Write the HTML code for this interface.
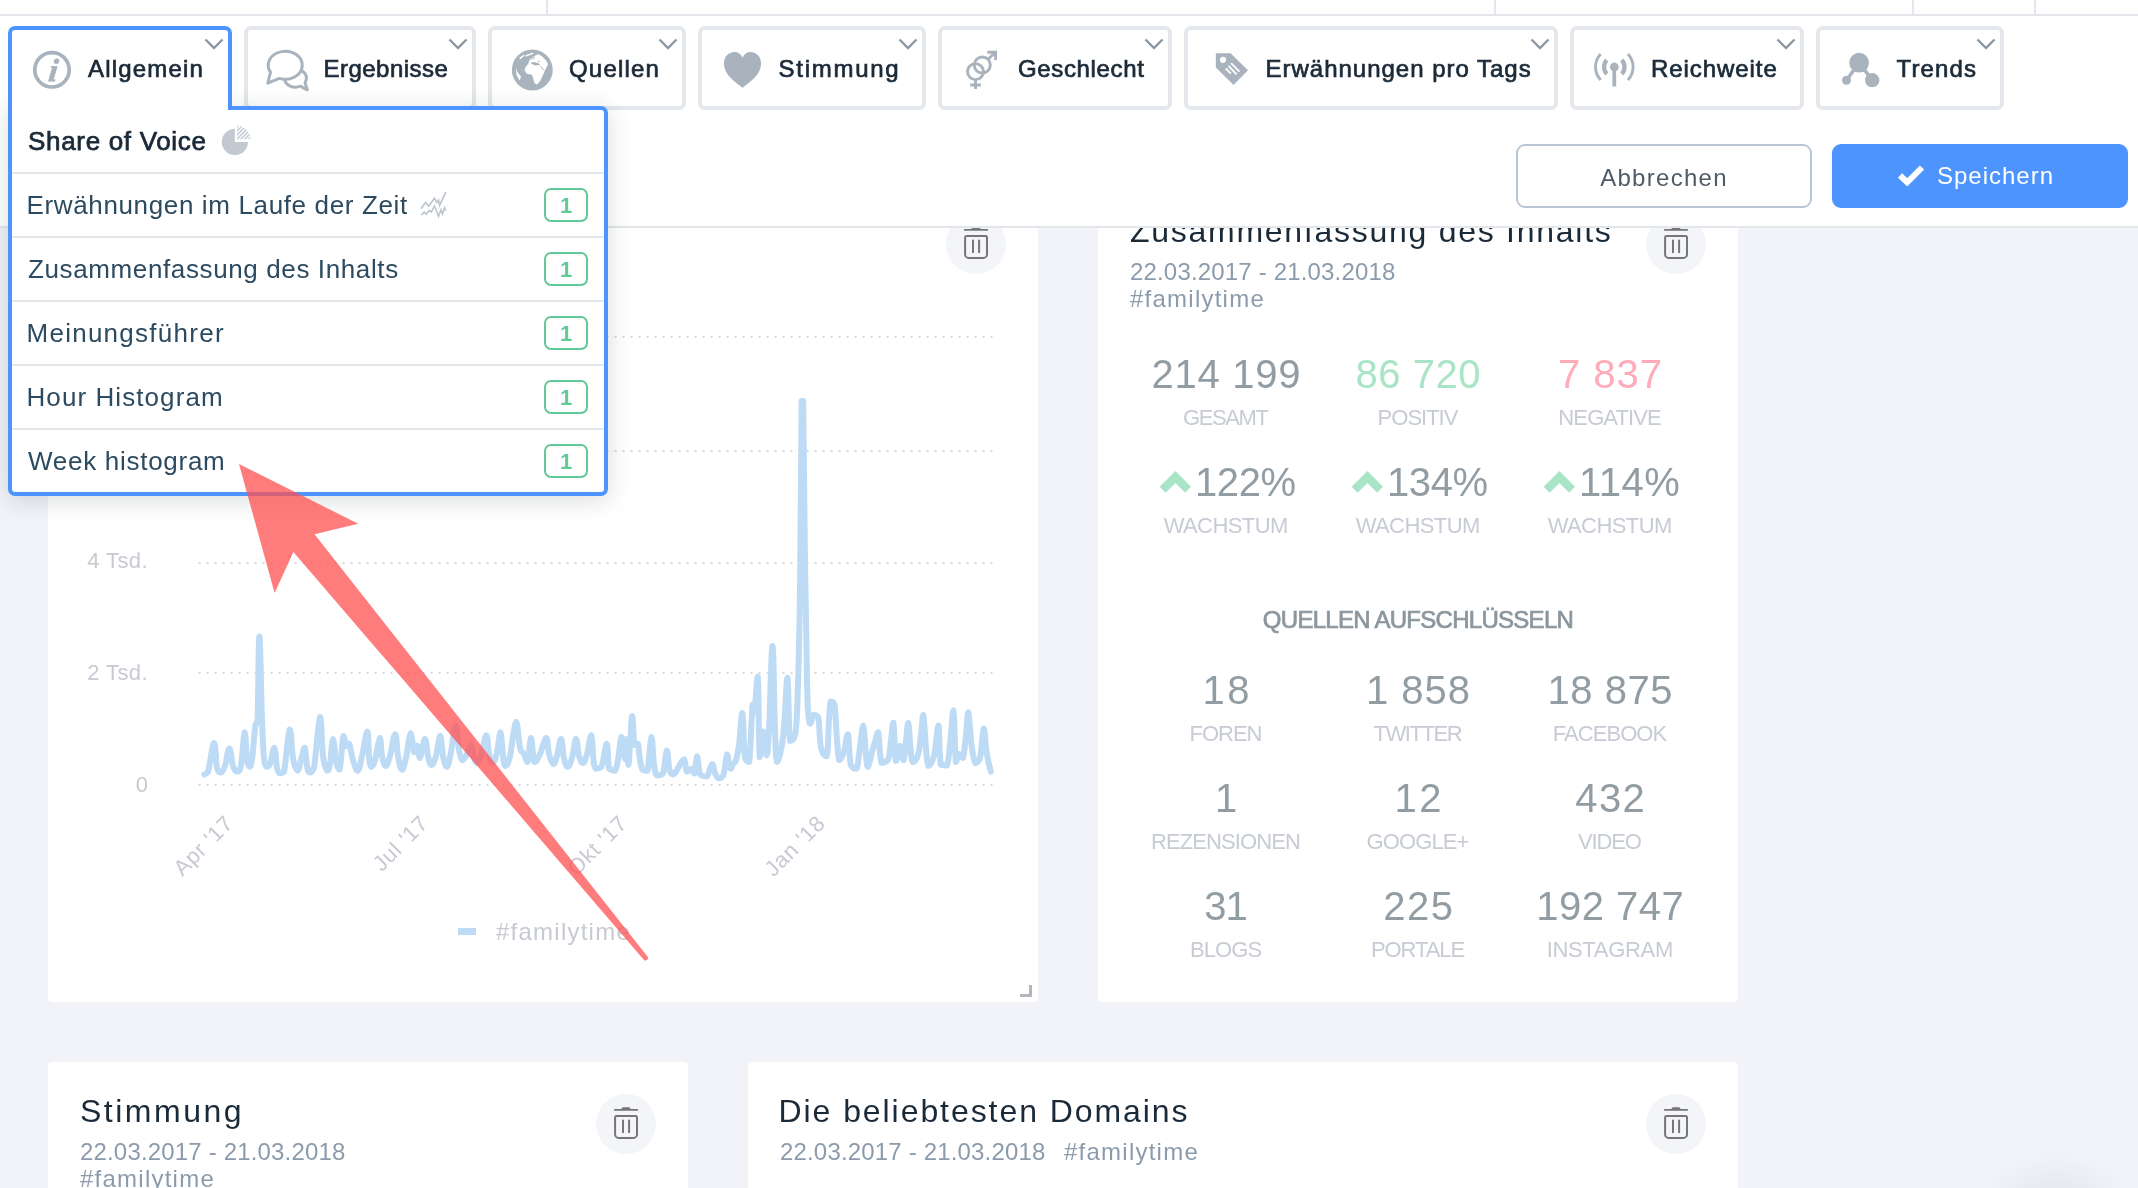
<!DOCTYPE html>
<html lang="de"><head><meta charset="utf-8"><title>Dashboard</title>
<style>
*{box-sizing:border-box}
html,body{margin:0;padding:0}
body{width:2138px;height:1188px;overflow:hidden;position:relative;background:#f2f3f8;font-family:"Liberation Sans",sans-serif;color:#1b2a38}
.abs{position:absolute;display:block}
.card{position:absolute;background:#fff;border-radius:4px}
.ctitle{position:absolute;font-size:32px;line-height:40px;white-space:nowrap;color:#1b2a38}
.cmeta{position:absolute;font-size:24px;line-height:28px;white-space:nowrap;color:#8b9bab;letter-spacing:0.17px}
.num{position:absolute;width:300px;text-align:center;font-size:40px;line-height:46px;color:#929ca3;white-space:nowrap}
.lab{position:absolute;width:300px;text-align:center;font-size:22px;line-height:26px;color:#c7cbd4;white-space:nowrap;letter-spacing:-.6px}
#hdr{position:absolute;left:0;top:0;width:2138px;height:228px;background:#fff;border-bottom:2px solid #e3e7ec}
#hdr .topline{position:absolute;left:0;top:14px;width:2138px;height:2px;background:#e3e7ec}
#hdr .vd{position:absolute;top:0;width:2px;height:14px;background:#e3e7ec}
.tab{position:absolute;top:26px;height:84px;border:4px solid #e4e8ec;border-radius:7px;background:#fff}
.tab.act{border-color:#4d94ff;border-bottom:0;border-radius:7px 7px 0 0;height:84px;z-index:12}
.tlabel{position:absolute;top:54px;height:30px;line-height:30px;font-size:24px;font-weight:400;-webkit-text-stroke:.7px #1b2a38;color:#1b2a38;white-space:nowrap;z-index:13}
#hdr svg.abs{z-index:13}
.btn{position:absolute;top:144px;width:296px;height:64px;border-radius:9px;font-size:24px;line-height:64px;white-space:nowrap}
#dd{position:absolute;left:8px;top:106px;width:600px;height:390px;border:4px solid #4d94ff;border-radius:0 7px 7px 7px;background:#fff;box-shadow:0 4px 24px rgba(20,30,40,.16);z-index:11}
#dd .in{position:absolute;left:-4px;top:-4px;width:600px;height:390px}
.sep{position:absolute;left:4px;width:592px;height:2px;background:#e3e7ec}
.row{position:absolute;left:20px;height:62px;line-height:62px;font-size:26px;color:#2c4a60;white-space:nowrap}
.badge{position:absolute;left:536px;width:44px;height:34px;border:2px solid #62c998;border-radius:7px;color:#62c998;font-weight:700;font-size:22px;line-height:31px;text-align:center}
#app{position:absolute;left:0;top:0;width:2138px;height:1188px;overflow:hidden;will-change:transform}
</style></head><body><div id="app">

<!-- cards -->
<div class="card" style="left:48px;top:182px;width:990px;height:820px"></div>
<div class="card" style="left:1098px;top:182px;width:640px;height:820px"></div>
<div class="card" style="left:48px;top:1062px;width:640px;height:200px"></div>
<div class="card" style="left:748px;top:1062px;width:990px;height:200px"></div>

<!-- card 1 chart -->
<div class="abs" style="left:946px;top:214px"><svg width="60" height="60" viewBox="0 0 60 60"><circle cx="30" cy="30" r="30" fill="#f3f5f9"/><path d="M18.1 14.95H25.2L26.7 13.2H33.3L34.8 14.95H41.9V16.85H18.1z" fill="#767676"/><g fill="none" stroke="#767676" stroke-width="2" stroke-linecap="round"><path d="M19.1 23.5a1.5 1.5 0 0 1 1.5-1.5h18.9a1.5 1.5 0 0 1 1.5 1.5v16.9a3.5 3.5 0 0 1-3.5 3.5h-14.9a3.5 3.5 0 0 1-3.5-3.5z"/><path d="M27 26.5v11.8M33.1 26.5v11.8"/></g></svg></div>
<svg class="abs" style="left:0;top:0" width="1040" height="1010" viewBox="0 0 1040 1010" font-family="Liberation Sans, sans-serif">
<path d="M198.5 337H993" stroke="#d8d9dc" stroke-width="2" stroke-dasharray="2 6"/><path d="M198.5 451H993" stroke="#d8d9dc" stroke-width="2" stroke-dasharray="2 6"/><path d="M198.5 563H993" stroke="#d8d9dc" stroke-width="2" stroke-dasharray="2 6"/><path d="M198.5 673H993" stroke="#d8d9dc" stroke-width="2" stroke-dasharray="2 6"/><path d="M198.5 785H993" stroke="#d8d9dc" stroke-width="2" stroke-dasharray="2 6"/>
<path d="M204.4 774.5C205.1 774 206.1 774.5 208 772C209.9 765.7 212.2 743.7 214 742.9C215.8 742.9 215.7 762.1 217 768C218.3 772.6 219.1 772.6 220.7 772.6C222.3 772.2 223.3 770.8 225 766C226.7 761.2 227.7 748.6 229.3 748.6C230.9 748.6 231.5 761.4 233 766C234.5 770.6 235.4 771.6 237 771.6C238.6 771.6 239.5 771.6 241 766C242.5 758.1 243.4 733.9 244.6 732.3C245.8 732.3 246 751.1 247 758C248 764.9 248.4 766.4 249.4 766.8C250.4 766.8 250.8 766.8 252 760C253.2 752 254.1 734.6 255.2 726.6C256.3 720 256.7 726.6 257.5 720C258.3 702 258.5 636.4 259.4 636.4C260.3 636.4 261.1 695.7 262 720C262.9 744.3 263.1 748.6 264 758C264.9 766.8 265.5 765.6 266.7 766.8C267.9 766.8 268.5 766.8 270 764C271.5 760.2 273 747.7 274.4 747.7C275.8 748.5 275.9 762.8 277 768C278.1 773.2 278.6 772.7 280 773.5C281.4 773.5 282.1 773.5 284 772C285.9 763.2 287.9 732.2 289.7 729.4C291.5 729.4 291.5 749.7 293 758C294.5 766.3 295.8 770.3 297.4 770.7C299 770.7 299.5 764.6 301 760C302.5 755.4 303.5 747.7 304.7 747.7C305.9 748.9 306 761 307 766C308 771 308.4 772.2 309.8 772.6C311.2 772.6 312 772.6 314 768C316 756.9 318.2 719.4 320 717C321.8 717 321.6 745.3 323 756C324.4 766.7 325.7 769.1 327.1 770.7C328.5 770.7 328.8 770.3 330 764C331.2 757.7 331.7 739.8 332.9 739C334.1 739 334.7 753.9 336 760C337.3 766.1 338.1 769.7 339.6 769.7C341.1 764.9 342.1 740.7 343.4 736C344.7 736 344.8 744.4 346 746C347.2 746 347.8 743.8 349.2 743.8C350.6 746.6 351.3 754.6 353 760C354.7 765.4 356 770.7 357.8 770.7C359.6 769.9 360.1 763.9 362 756C363.9 748.1 366 731.4 367.4 731.4C368.8 731.4 368.2 748.9 369 756C369.8 763.1 370 766 371.2 766.8C372.4 766.8 373.3 765.8 375 760C376.7 754.2 378.4 738.8 379.8 738C381.2 738 380.8 750.4 382 756C383.2 761.6 384 765.9 385.6 765.9C387.2 765.9 388.1 762.3 390 756C391.9 749.7 393.6 734.2 395.2 734.2C396.8 734.2 396.7 748.9 398 756C399.3 763.1 400.3 769.3 401.9 769.7C403.5 769.7 404.3 765.3 406 758C407.7 750.7 408.9 734.5 410.5 733.3C412.1 733.3 412.7 749.5 414 752C415.3 752 416 745.7 417.2 745.7C418.4 746.9 418.5 758 420 758C421.5 756.7 423.3 739.4 424.9 739C426.5 739 426.7 750.8 428 756C429.3 761.2 430 764.9 431.6 764.9C433.2 764.9 434.3 761.8 436 756C437.7 750.2 438.8 736.1 440.2 736.1C441.6 736.1 441.7 749.9 443 756C444.3 762.1 445.3 766.8 446.9 766.8C448.5 766 449.3 760.2 451 752C452.7 743.8 454 726 455.6 725.6C457.2 725.6 457.7 743.1 459 750C460.3 756.9 460.9 758.9 462.3 760.1C463.7 760.1 464.3 758.9 466 756C467.7 753.1 469.3 745.7 470.9 745.7C472.5 746.1 472.8 754.5 474 758C475.2 761.5 475.3 763 476.7 763C478.1 762.6 479.1 761.6 481 756C482.9 750.4 484.7 735.6 486.3 735.2C487.9 735.2 487.7 748.4 489 754C490.3 759.6 491.4 763 493 763C494.6 762.6 495.5 758.1 497 752C498.5 745.9 499.4 732.3 500.6 732.3C501.8 733.1 502 749.3 503 756C504 762.7 504 765.9 505.4 765.9C506.8 765.9 507.9 764.8 510 756C512.1 747.2 514 723.4 516 721.8C518 721.8 518.4 741.6 520 748C521.6 754 522.5 751.2 524 754C525.5 756.8 526.1 762 527.5 762C528.9 758.8 529.8 739.6 530.9 738C532 738 532.2 749.2 533 754C533.8 758.8 533.6 762 535 762C536.4 762 537.7 758.8 540 754C542.3 749.2 544.5 738 546.3 738C548.1 738 547.6 748.8 549 754C550.4 759.2 551.8 763.6 553.4 764C555 764 555.5 761 557 756C558.5 751 559.6 739 561 739C562.4 739.4 562.7 752.4 564 758C565.3 763.6 566.1 766.8 567.7 766.8C569.3 766.8 570.3 763.6 572 758C573.7 752.4 574.6 739.4 576 739C577.4 739 577.6 751.2 579 756C580.4 760.8 581.4 763 583 763C584.6 762.6 585.3 759.6 587 754C588.7 748.4 590 735.2 591.3 735.2C592.6 736.4 592.6 753.3 593.5 760C594.4 766.7 594.2 767.3 595.8 768.7C597.4 768.7 599.3 768.7 601.5 766.8C603.7 761.8 605.2 743.8 606.7 743.8C608.2 744.2 607.6 763.3 609.2 768.7C610.8 770.7 613.1 770.7 614.9 770.7C616.7 769 616.7 766.7 618 760C619.3 753.3 620.2 738.7 621.3 737.1C622.4 737.1 622.7 747.6 623.5 752C624.3 756.4 624.9 759.2 625.5 759.2C626.1 756.6 625.8 739 626.4 739C627 740.1 627.7 763.7 628.4 764.9C629.1 764.9 629.2 754.8 630 745C630.8 735.2 631.3 716 632.2 716C633.1 716 633.4 739.4 634.5 745C635.6 745 636.8 743.8 637.9 743.8C639 746.8 639 754.8 640 760C641 765.2 641.2 767.6 642.7 769.7C644.2 770.7 645.8 770.7 647.5 770.7C649.2 764.2 650.1 738.2 651.4 737.1C652.7 737.1 652.9 757.3 654 765C655.1 772.7 655.3 773.8 657.1 775.5C658.9 775.5 661 775.5 662.9 773.5C664.8 768.5 665.4 751.2 666.7 750.5C668 750.5 668.2 765.2 669.5 770C670.8 774.5 671.7 774.5 673.4 774.5C675.1 774.1 675.9 771.1 678 768C680.1 764.9 682.2 759.2 684 759.2C685.8 759.9 685.3 769.7 686.8 771.6C688.3 771.6 690.1 768.7 691.6 768.7C693.1 769.1 693.4 773.5 694.5 773.5C695.6 771 696.1 757 697 756.3C697.9 756.3 698.2 766.2 699 770C699.8 773.8 699.6 774.2 701.2 775.5C702.8 776.4 704.8 776.4 707 776.4C709.2 774.1 710.5 764.7 712.1 764C713.7 764 713.7 770.1 715 773C716.3 775.9 716.8 777.8 718.5 778.3C720.2 778.3 721.6 778.3 723.3 775.5C725 770.7 726 756.3 727.1 754.4C728.2 754.4 728.2 763.1 729 766C729.8 768.7 730.1 768.7 730.9 768.7C731.7 768.3 732 765.5 733 764C734 762.5 734.5 764 735.7 761C736.9 757.2 737.7 754.6 739 745C740.3 735.4 741.2 713.1 742.4 713.1C743.6 715.5 743.5 747.4 744.9 757.2C746.3 762 747.7 762 749.2 762C750.7 751.5 751.5 714.5 752.6 704.5C753.7 704.5 753.5 712 754.5 712C755.5 706.4 756.8 676.7 757.8 676.7C758.8 685.7 758.6 746.3 759.7 757.2C760.8 757.2 762.2 731.8 763.5 731.4C764.8 731.4 765.3 755.3 766.4 755.3C767.5 755 767.8 751.9 769 730C770.2 708.1 771.3 646 772.5 646C773.7 646 774.1 706.8 775 730C775.9 753.2 775.6 758.9 777 762C778.4 762 780.3 754.1 781.8 745.7C783.3 737.3 783.4 733.6 784.5 720C785.6 706.4 786.4 677.7 787.5 677.7C788.6 681.9 788.5 729.6 790 740.9C791.5 740.9 793.7 740.9 795.2 734.2C796.7 726 796.5 728.8 797.5 700C798.5 671.2 799.2 649.8 800 590C800.8 530.2 801 438.8 801.6 401C802.2 401 802.5 401 803.2 401C803.9 432.8 804.2 504.2 805 560C805.8 615.8 806.3 648.8 807 680C807.7 711.2 807.8 707.3 808.5 716C809.2 723.7 809.5 723.7 810.5 723.7C811.5 723.5 811.9 716.3 813.4 715C814.9 715 816.7 715 818.2 717C819.7 723.5 819.3 739.8 821 747.7C822.7 755.6 825.2 756.3 826.8 756.3C828.4 750.8 828.2 730.9 829 720C829.8 709.1 829.6 704.7 830.7 701.6C831.8 701.6 833.2 701.6 834.5 704.5C835.8 712.2 836 728.9 837 740C838 751.1 837.9 757.8 839.3 760.1C840.7 760.1 842.3 756.7 844 751.5C845.7 746.3 846.5 734.2 847.9 734.2C849.3 736.9 849.1 758 850.8 764.9C852.5 768.7 854.8 768.7 856.5 768.7C858.2 766 858 760.1 859.4 751.5C860.8 742.9 862 725.6 863.3 725.6C864.6 726.5 865.1 747.8 866 756C866.9 764.2 866.8 766.8 868 766.8C869.2 766 870.6 757 872 752C873.4 747 873.8 745.9 875 742C876.2 738.1 876.9 732.3 878.2 732.3C879.5 736.5 879.5 757.6 881.5 763C883.5 763 886.3 763 888.2 759.2C890.1 754.6 890 747.3 891 740C892 732.7 892.4 722.7 893.4 722.7C894.4 726.9 894.6 756.4 895.9 761C897.2 761 898.2 745.9 899.7 745.7C901.2 745.7 902.2 760.1 903.5 760.1C904.8 759 905 747.5 906 740C907 732.5 907.4 722.7 908.3 722.7C909.2 724.3 909.6 740.1 910.5 748C911.4 755.9 911.2 760.6 912.7 762C914.2 762 916.3 760.4 918 755C919.7 749.6 919.9 743 921 735C922.1 727 922.3 715 923.3 715C924.3 717.6 925 737.8 926 748C927 758.2 926.8 764.3 928.4 765.9C930 765.9 932.4 761.6 934 756C935.6 750.4 935.6 744.1 936.5 738C937.4 731.9 937.7 725.6 938.6 725.6C939.5 731 939.2 756.9 940.9 764.9C942.6 765.5 945.1 765.5 947 765.5C948.9 760.5 949.2 751 950.5 740C951.8 729 952.3 710.3 953.4 710.3C954.5 714.7 954.8 753.3 955.9 762C957 762 957.6 754.8 959 754C960.4 754 961.6 758 963 758C964.4 754.2 964.9 744.2 966 735C967.1 725.8 967.2 712.2 968.3 712.2C969.4 714.2 970.1 734.8 971.5 745C972.9 755.2 973.7 760.4 975.4 763C977.1 763 978.3 763 980 758C981.7 751.1 982.5 730.5 983.7 728.5C984.9 728.5 985.2 741.9 986 748C986.8 754.1 986.9 754.5 987.9 759.2C988.9 763.9 990.2 769.1 990.8 771.6" fill="none" stroke="#bedbf5" stroke-width="6" stroke-linejoin="round" stroke-linecap="round"/>
<g font-size="22" fill="#c7cad3"><text x="148" y="568" text-anchor="end" letter-spacing="0.4">4 Tsd.</text><text x="148" y="680" text-anchor="end" letter-spacing="0.4">2 Tsd.</text><text x="148" y="792" text-anchor="end">0</text>
<text transform="translate(229 819) rotate(-45)" text-anchor="end" y="8" letter-spacing=".7">Apr '17</text><text transform="translate(424 819) rotate(-45)" text-anchor="end" y="8" letter-spacing=".7">Jul '17</text><text transform="translate(623 819) rotate(-45)" text-anchor="end" y="8" letter-spacing=".7">Okt '17</text><text transform="translate(821 819) rotate(-45)" text-anchor="end" y="8" letter-spacing=".7">Jan '18</text></g>
<rect x="458" y="928" width="18" height="7" fill="#bedbf5"/>
<text x="496" y="940" font-size="24" fill="#c7cad3" letter-spacing="1.24">#familytime</text>
<path d="M1030.5 985v10.5h-10.5" fill="none" stroke="#b3b6bb" stroke-width="3"/>
</svg>

<!-- card 2 summary -->
<div class="ctitle" style="left:1130px;top:211px;letter-spacing:1.73px">Zusammenfassung des Inhalts</div>
<div class="cmeta" style="left:1130px;top:258px">22.03.2017 - 21.03.2018</div>
<div class="cmeta" style="left:1130px;top:285px;letter-spacing:1.24px">#familytime</div>
<div class="abs" style="left:1646px;top:214px"><svg width="60" height="60" viewBox="0 0 60 60"><circle cx="30" cy="30" r="30" fill="#f3f5f9"/><path d="M18.1 14.95H25.2L26.7 13.2H33.3L34.8 14.95H41.9V16.85H18.1z" fill="#767676"/><g fill="none" stroke="#767676" stroke-width="2" stroke-linecap="round"><path d="M19.1 23.5a1.5 1.5 0 0 1 1.5-1.5h18.9a1.5 1.5 0 0 1 1.5 1.5v16.9a3.5 3.5 0 0 1-3.5 3.5h-14.9a3.5 3.5 0 0 1-3.5-3.5z"/><path d="M27 26.5v11.8M33.1 26.5v11.8"/></g></svg></div>
<div class="num" style="left:1076.4px;top:351px;color:#929ca3;letter-spacing:0.77px">214 199</div><div class="lab" style="left:1075.3px;top:405px;letter-spacing:-1.38px">GESAMT</div>
<div class="num" style="left:1268.3px;top:351px;color:#a9e4c6;letter-spacing:0.52px">86 720</div><div class="lab" style="left:1267.5px;top:405px;letter-spacing:-1.0px">POSITIV</div>
<div class="num" style="left:1460.5px;top:351px;color:#ffabb9;letter-spacing:0.95px">7 837</div><div class="lab" style="left:1459.6px;top:405px;letter-spacing:-0.89px">NEGATIVE</div>
<div class="num" style="left:1195px;top:459px;width:auto;text-align:left;letter-spacing:-0.43px">122%</div><svg class="abs" style="left:1158px;top:468px" width="36" height="28" viewBox="0 0 36 28"><path d="M1.7 18.7L17.4 3 33.1 18.7 27.1 24.7 17.4 15 7.7 24.7z" fill="#a9e4c6"/></svg><div class="lab" style="left:1075.7px;top:513px;letter-spacing:-0.59px">WACHSTUM</div>
<div class="num" style="left:1387px;top:459px;width:auto;text-align:left;letter-spacing:-0.43px">134%</div><svg class="abs" style="left:1350px;top:468px" width="36" height="28" viewBox="0 0 36 28"><path d="M1.7 18.7L17.4 3 33.1 18.7 27.1 24.7 17.4 15 7.7 24.7z" fill="#a9e4c6"/></svg><div class="lab" style="left:1267.7px;top:513px;letter-spacing:-0.59px">WACHSTUM</div>
<div class="num" style="left:1579px;top:459px;width:auto;text-align:left;letter-spacing:0.53px">114%</div><svg class="abs" style="left:1542px;top:468px" width="36" height="28" viewBox="0 0 36 28"><path d="M1.7 18.7L17.4 3 33.1 18.7 27.1 24.7 17.4 15 7.7 24.7z" fill="#a9e4c6"/></svg><div class="lab" style="left:1459.7px;top:513px;letter-spacing:-0.59px">WACHSTUM</div>
<div class="num" style="left:1077.2px;top:667px;color:#929ca3;letter-spacing:2.4px">18</div><div class="lab" style="left:1075.5px;top:721px;letter-spacing:-1.05px">FOREN</div>
<div class="num" style="left:1268.5px;top:667px;color:#929ca3;letter-spacing:0.95px">1 858</div><div class="lab" style="left:1267.3px;top:721px;letter-spacing:-1.45px">TWITTER</div>
<div class="num" style="left:1460.3px;top:667px;color:#929ca3;letter-spacing:0.52px">18 875</div><div class="lab" style="left:1459.5px;top:721px;letter-spacing:-0.97px">FACEBOOK</div>
<div class="num" style="left:1076.0px;top:775px;color:#929ca3;letter-spacing:0.0px">1</div><div class="lab" style="left:1075.5px;top:829px;letter-spacing:-0.91px">REZENSIONEN</div>
<div class="num" style="left:1269.2px;top:775px;color:#929ca3;letter-spacing:2.4px">12</div><div class="lab" style="left:1267.5px;top:829px;letter-spacing:-0.9px">GOOGLE+</div>
<div class="num" style="left:1460.7px;top:775px;color:#929ca3;letter-spacing:1.35px">432</div><div class="lab" style="left:1459.4px;top:829px;letter-spacing:-1.15px">VIDEO</div>
<div class="num" style="left:1075.5px;top:883px;color:#929ca3;letter-spacing:-1.1px">31</div><div class="lab" style="left:1075.6px;top:937px;letter-spacing:-0.88px">BLOGS</div>
<div class="num" style="left:1268.8px;top:883px;color:#929ca3;letter-spacing:1.5px">225</div><div class="lab" style="left:1267.5px;top:937px;letter-spacing:-1.07px">PORTALE</div>
<div class="num" style="left:1460.2px;top:883px;color:#929ca3;letter-spacing:0.5px">192 747</div><div class="lab" style="left:1459.8px;top:937px;letter-spacing:-0.32px">INSTAGRAM</div>

<div class="abs" style="left:1118px;top:606px;width:600px;text-align:center;font-size:24px;line-height:28px;font-weight:400;-webkit-text-stroke:.7px #8b969d;color:#8b969d;letter-spacing:-0.72px;white-space:nowrap">QUELLEN AUFSCHLÜSSELN</div>

<!-- card 3 / 4 -->
<div class="ctitle" style="left:80px;top:1091px;letter-spacing:2.5px">Stimmung</div>
<div class="cmeta" style="left:80px;top:1138px">22.03.2017 - 21.03.2018</div>
<div class="cmeta" style="left:80px;top:1165px;letter-spacing:1.24px">#familytime</div>
<div class="abs" style="left:596px;top:1094px"><svg width="60" height="60" viewBox="0 0 60 60"><circle cx="30" cy="30" r="30" fill="#f3f5f9"/><path d="M18.1 14.95H25.2L26.7 13.2H33.3L34.8 14.95H41.9V16.85H18.1z" fill="#767676"/><g fill="none" stroke="#767676" stroke-width="2" stroke-linecap="round"><path d="M19.1 23.5a1.5 1.5 0 0 1 1.5-1.5h18.9a1.5 1.5 0 0 1 1.5 1.5v16.9a3.5 3.5 0 0 1-3.5 3.5h-14.9a3.5 3.5 0 0 1-3.5-3.5z"/><path d="M27 26.5v11.8M33.1 26.5v11.8"/></g></svg></div>
<div class="ctitle" style="left:778.5px;top:1091px;letter-spacing:1.93px">Die beliebtesten Domains</div>
<div class="cmeta" style="left:780px;top:1138px">22.03.2017 - 21.03.2018</div>
<div class="cmeta" style="left:1064px;top:1138px;letter-spacing:1.24px">#familytime</div>
<div class="abs" style="left:1646px;top:1094px"><svg width="60" height="60" viewBox="0 0 60 60"><circle cx="30" cy="30" r="30" fill="#f3f5f9"/><path d="M18.1 14.95H25.2L26.7 13.2H33.3L34.8 14.95H41.9V16.85H18.1z" fill="#767676"/><g fill="none" stroke="#767676" stroke-width="2" stroke-linecap="round"><path d="M19.1 23.5a1.5 1.5 0 0 1 1.5-1.5h18.9a1.5 1.5 0 0 1 1.5 1.5v16.9a3.5 3.5 0 0 1-3.5 3.5h-14.9a3.5 3.5 0 0 1-3.5-3.5z"/><path d="M27 26.5v11.8M33.1 26.5v11.8"/></g></svg></div>

<div class="abs" style="left:1938px;top:1100px;width:200px;height:88px;background:radial-gradient(ellipse 72px 46px at 118px 100px,rgba(60,60,90,.07),rgba(60,60,90,0) 100%)"></div>
<!-- header -->
<div id="hdr">
<div class="topline"></div>
<div class="vd" style="left:546px"></div><div class="vd" style="left:1494px"></div><div class="vd" style="left:1912px"></div><div class="vd" style="left:2034px"></div>
<div class="tab act" style="left:8px;width:224px"></div>
<svg class="abs" style="left:31px;top:49px" width="42" height="42" viewBox="0 0 42 42"><circle cx="21" cy="20.8" r="17.2" fill="none" stroke="#a9b3bd" stroke-width="3.7"/>
<text transform="translate(21.3 31.5) skewX(-7)" x="0" y="0" text-anchor="middle" font-family="Liberation Serif, serif" font-style="italic" font-weight="bold" font-size="32" fill="#a9b3bd" stroke="#a9b3bd" stroke-width=".8">i</text></svg>
<div class="tlabel" style="left:88px;letter-spacing:1.19px">Allgemein</div>
<svg class="abs" style="left:204px;top:37px" width="20" height="14" viewBox="0 0 20 14"><path d="M1.5 2.5L10 11l8.5-8.5" fill="none" stroke="#8d98a4" stroke-width="2.4"/></svg>
<div class="tab" style="left:244px;width:232px"></div>
<svg class="abs" style="left:255px;top:40px" width="70" height="60" viewBox="0 0 70 60"><g fill="#fff" stroke="#a9b3bd" stroke-width="3" stroke-linejoin="round">
<path d="M50 42.5L52.3 49.8 45.2 46.2A11 9 0 1 1 50 42.5z"/>
<path d="M15.5 32.2L12.8 43.2 24.4 38.4A17 14 0 1 0 15.5 32.2z"/></g></svg>
<div class="tlabel" style="left:323.5px;letter-spacing:0.48px">Ergebnisse</div>
<svg class="abs" style="left:448px;top:37px" width="20" height="14" viewBox="0 0 20 14"><path d="M1.5 2.5L10 11l8.5-8.5" fill="none" stroke="#8d98a4" stroke-width="2.4"/></svg>
<div class="tab" style="left:488px;width:198px"></div>
<svg class="abs" style="left:500px;top:40px" width="70" height="60" viewBox="0 0 70 60"><circle cx="32.3" cy="30" r="20.45" fill="#a9b3bd"/>
<path d="M29.3 22.2L30.3 19.2 32.8 17.7 35.4 15.7 38.4 14.6 41.9 16.7 45.5 20.2 47.7 24.2 47 25.3 44.4 30.8 42.4 35.4 39.9 40.9 36.9 44.2 34.8 42.9 33.6 38.4 32.3 34.6 26.8 33.3 25 30.3 25.8 27.3 28.3 24.2z" fill="#fff" stroke="#fff" stroke-width=".8" stroke-linejoin="round"/>
<path d="M30.3 23.1L33.5 21.9 36 22.5 40 23.9 39.5 25 35.4 25.5 33 24.4z" fill="#a9b3bd"/>
<path d="M40.4 26.3L43.9 30.3M37.8 21.4H39.8M31 19.6L35 17.2" stroke="#a9b3bd" stroke-width="1" fill="none"/>
<path d="M16.2 27.5L16.7 31.3 21 36.4 19.7 40.4 16.7 35.4 15.9 30.3z" fill="#fff"/>
<path d="M20.2 18.2L23.7 15.7M26.3 15.7L32.8 13.4" stroke="#fff" stroke-width="1.5" stroke-linecap="round" fill="none"/></svg>
<div class="tlabel" style="left:569px;letter-spacing:1.18px">Quellen</div>
<svg class="abs" style="left:658px;top:37px" width="20" height="14" viewBox="0 0 20 14"><path d="M1.5 2.5L10 11l8.5-8.5" fill="none" stroke="#8d98a4" stroke-width="2.4"/></svg>
<div class="tab" style="left:698px;width:228px"></div>
<svg class="abs" style="left:710px;top:40px" width="70" height="60" viewBox="0 0 70 60"><path d="M32.5 47.7C24 41.5 13.9 34 13.9 23.5 13.9 17 18.5 12 24.5 12 28 12 31 14 32.5 17.7 34 14 37 12 40.5 12 46.5 12 51.1 17 51.1 23.5 51.1 34 41 41.5 32.5 47.7z" fill="#a9b3bd"/></svg>
<div class="tlabel" style="left:778.5px;letter-spacing:1.73px">Stimmung</div>
<svg class="abs" style="left:898px;top:37px" width="20" height="14" viewBox="0 0 20 14"><path d="M1.5 2.5L10 11l8.5-8.5" fill="none" stroke="#8d98a4" stroke-width="2.4"/></svg>
<div class="tab" style="left:938px;width:234px"></div>
<svg class="abs" style="left:950px;top:40px" width="70" height="60" viewBox="0 0 70 60"><g fill="none" stroke="#a9b3bd" stroke-width="2.9">
<circle cx="25.5" cy="31.6" r="8"/><path d="M25.5 39.6V49M20.2 45H30.9"/>
<circle cx="32.3" cy="25" r="8"/><path d="M38 19.3L45.4 12.4M37.3 12.3H45.6V19.9"/></g></svg>
<div class="tlabel" style="left:1018px;letter-spacing:0.64px">Geschlecht</div>
<svg class="abs" style="left:1144px;top:37px" width="20" height="14" viewBox="0 0 20 14"><path d="M1.5 2.5L10 11l8.5-8.5" fill="none" stroke="#8d98a4" stroke-width="2.4"/></svg>
<div class="tab" style="left:1184px;width:374px"></div>
<svg class="abs" style="left:1200px;top:40px" width="70" height="60" viewBox="0 0 70 60"><path d="M15.8 13.2H30.6L48 30.3 33.6 44.9 15.8 27.5z" fill="#a9b3bd"/><circle cx="23" cy="19.8" r="3.1" fill="#fff"/>
<path d="M31.1 23.2L39.4 31.6M28.5 25.8L36.6 34.3M25.8 28.5L30.8 33.6" stroke="#fff" stroke-width="1.8" fill="none"/></svg>
<div class="tlabel" style="left:1265.5px;letter-spacing:0.99px">Erwähnungen pro Tags</div>
<svg class="abs" style="left:1530px;top:37px" width="20" height="14" viewBox="0 0 20 14"><path d="M1.5 2.5L10 11l8.5-8.5" fill="none" stroke="#8d98a4" stroke-width="2.4"/></svg>
<div class="tab" style="left:1570px;width:234px"></div>
<svg class="abs" style="left:1580px;top:40px" width="70" height="60" viewBox="0 0 70 60"><g fill="none" stroke="#a9b3bd">
<path d="M26.84 20.04A10.2 10.2 0 0 0 26.84 33.96M41.76 20.04A10.2 10.2 0 0 1 41.76 33.96" stroke-width="4.3"/>
<path d="M20.67 14.06A18.8 18.8 0 0 0 20.67 39.94M47.93 14.06A18.8 18.8 0 0 1 47.93 39.94" stroke-width="2.9"/></g>
<circle cx="34.3" cy="27" r="4.4" fill="#a9b3bd"/><rect x="32.4" y="27" width="3.8" height="19.5" fill="#a9b3bd"/></svg>
<div class="tlabel" style="left:1651px;letter-spacing:0.93px">Reichweite</div>
<svg class="abs" style="left:1776px;top:37px" width="20" height="14" viewBox="0 0 20 14"><path d="M1.5 2.5L10 11l8.5-8.5" fill="none" stroke="#8d98a4" stroke-width="2.4"/></svg>
<div class="tab" style="left:1816px;width:188px"></div>
<svg class="abs" style="left:1825px;top:40px" width="70" height="60" viewBox="0 0 70 60"><path d="M21.5 40.2L34.1 22.7 47.2 40.2" fill="none" stroke="#a9b3bd" stroke-width="3.6"/>
<circle cx="34.1" cy="22.7" r="9.85" fill="#a9b3bd"/><circle cx="21.5" cy="40.2" r="4.5" fill="#a9b3bd"/><circle cx="47.2" cy="40.2" r="7.15" fill="#a9b3bd"/></svg>
<div class="tlabel" style="left:1896.5px;letter-spacing:1.16px">Trends</div>
<svg class="abs" style="left:1976px;top:37px" width="20" height="14" viewBox="0 0 20 14"><path d="M1.5 2.5L10 11l8.5-8.5" fill="none" stroke="#8d98a4" stroke-width="2.4"/></svg>

<div class="btn" style="left:1516px;border:2px solid #b9c7d5;background:#fff;color:#4f5b66;text-align:center;line-height:64px;letter-spacing:1.28px">Abbrechen</div>
<div class="btn" style="left:1832px;background:#4d94ff;color:#fff"><svg class="abs" style="left:65px;top:20px" width="28" height="22" viewBox="0 0 28 22"><path d="M3 11.5l7.2 6.8L25 3.5" fill="none" stroke="#fff" stroke-width="6"/></svg><span style="position:absolute;left:105px;top:0;letter-spacing:0.99px">Speichern</span></div>
</div>

<!-- dropdown -->
<div id="dd"><div class="in">
<div class="abs" style="left:20px;top:13px;height:44px;line-height:44px;font-size:26px;font-weight:400;-webkit-text-stroke:.75px #1b2a38;color:#1b2a38;white-space:nowrap;letter-spacing:0.68px">Share of Voice</div>
<svg class="abs" style="left:212px;top:18px" width="34" height="34" viewBox="0 0 34 34"><path d="M14.85 17.9V4.8A13.1 13.1 0 1 0 27.95 17.9z" fill="#c3c9d1"/><clipPath id="pq"><path d="M17 15.2V1.8A13.4 13.4 0 0 1 30.4 15.2z"/></clipPath><path clip-path="url(#pq)" d="M4.2 15.8L19.2 0.8M8.2 15.8L23.2 0.8M12.2 15.8L27.2 0.8M16.2 15.8L31.2 0.8M20.2 15.8L35.2 0.8M24.2 15.8L39.2 0.8M28.2 15.8L43.2 0.8" stroke="#c3c9d1" stroke-width="1.5" fill="none"/></svg>
<div class="sep" style="top:66px"></div>
<div class="row" style="left:18.5px;top:68px;letter-spacing:0.64px">Erwähnungen im Laufe der Zeit</div>
<div class="badge" style="top:82px">1</div>
<div class="sep" style="top:130px"></div>
<div class="row" style="left:20px;top:132px;letter-spacing:0.62px">Zusammenfassung des Inhalts</div>
<div class="badge" style="top:146px">1</div>
<div class="sep" style="top:194px"></div>
<div class="row" style="left:18.5px;top:196px;letter-spacing:1.26px">Meinungsführer</div>
<div class="badge" style="top:210px">1</div>
<div class="sep" style="top:258px"></div>
<div class="row" style="left:18.5px;top:260px;letter-spacing:1.08px">Hour Histogram</div>
<div class="badge" style="top:274px">1</div>
<div class="sep" style="top:322px"></div>
<div class="row" style="left:20px;top:324px;letter-spacing:0.72px">Week histogram</div>
<div class="badge" style="top:338px">1</div>

<svg class="abs" style="left:412px;top:84px" width="28" height="28" viewBox="0 0 28 28"><path d="M1 18.7L5.5 12.5 8.8 16.2 14.4 8.3 16.9 12.5 18.5 10.2 19.6 15.2 25.8 2.1M1.2 24.9L4.3 22.2 6.3 24.3 9 20.5 11.3 22 14.4 16 18.5 26.3 21 19.7 22.5 23.8 24.5 17.9 25.8 20.7" fill="none" stroke="#bcc4cc" stroke-width="1.6"/></svg>
</div></div>

<!-- arrow -->
<svg class="abs" style="left:0;top:0;z-index:30" width="2138" height="1188" viewBox="0 0 2138 1188"><path d="M239 464L358.2 523.7 314.5 534.3 647.5 956.5a2.5 2.5 0 0 1-3.5 3.5L293.4 552 274.6 593z" fill="rgba(255,80,80,.75)"/></svg>

</div></body></html>
